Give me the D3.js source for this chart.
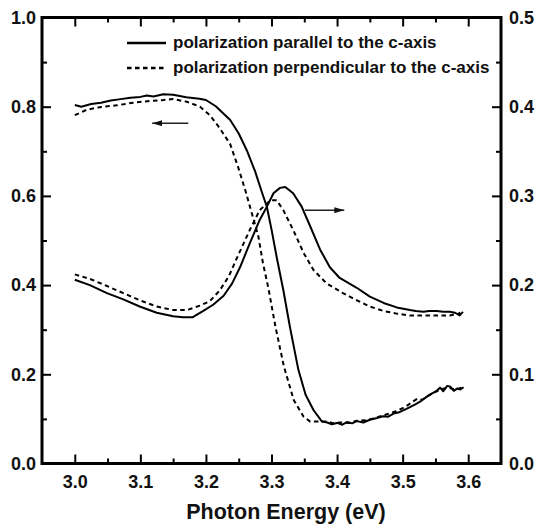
<!DOCTYPE html>
<html>
<head>
<meta charset="utf-8">
<script src="https://cdn.jsdelivr.net/npm/d3@7"></script>
<style>
  body { margin: 0; background: #fff; }
  svg text { font-family: "Liberation Sans", Arial, sans-serif; font-weight: bold; fill: #111; }
</style>
</head>
<body>
<svg id="chart" width="537" height="525"></svg>
<script>
// ---------- data ----------

// reflectivity, left axis
const reflParallel = [
  [3.000,0.804],[3.010,0.800],[3.025,0.806],[3.040,0.809],[3.055,0.814],[3.070,0.817],
  [3.085,0.820],[3.100,0.822],[3.110,0.825],[3.120,0.823],[3.135,0.828],[3.150,0.827],
  [3.170,0.821],[3.190,0.818],[3.200,0.815],[3.215,0.801],[3.225,0.787],[3.237,0.770],
  [3.250,0.740],[3.263,0.700],[3.275,0.655],[3.285,0.610],[3.293,0.575],[3.300,0.525],
  [3.308,0.462],[3.318,0.389],[3.328,0.307],[3.341,0.210],[3.352,0.154],[3.364,0.120],
  [3.377,0.094],[3.385,0.092],[3.392,0.088],[3.400,0.091],[3.408,0.087],[3.415,0.093],
  [3.423,0.090],[3.430,0.095],[3.440,0.092],[3.450,0.098],[3.461,0.102],[3.470,0.106],
  [3.478,0.105],[3.486,0.112],[3.495,0.115],[3.505,0.122],[3.512,0.127],[3.520,0.133],
  [3.528,0.140],[3.537,0.150],[3.545,0.157],[3.552,0.163],[3.557,0.170],[3.562,0.162],
  [3.568,0.174],[3.573,0.172],[3.578,0.163],[3.583,0.168],[3.588,0.166],[3.593,0.171]
];

const reflPerpendicular = [
  [3.000,0.781],[3.018,0.793],[3.038,0.799],[3.064,0.803],[3.089,0.809],[3.115,0.813],
  [3.135,0.815],[3.150,0.817],[3.171,0.811],[3.191,0.800],[3.206,0.781],[3.221,0.752],
  [3.237,0.716],[3.249,0.665],[3.260,0.613],[3.270,0.561],[3.280,0.509],[3.287,0.449],
  [3.295,0.395],[3.306,0.307],[3.319,0.217],[3.334,0.142],[3.349,0.105],[3.359,0.094],
  [3.374,0.094],[3.385,0.094],[3.395,0.090],[3.405,0.092],[3.418,0.091],[3.430,0.096],
  [3.445,0.097],[3.460,0.103],[3.475,0.110],[3.490,0.117],[3.505,0.128],[3.515,0.138],
  [3.522,0.145],[3.530,0.143],[3.540,0.153],[3.552,0.162],[3.562,0.168],[3.572,0.169],
  [3.580,0.166],[3.590,0.170]
];

// peaked curves, right axis
const peakParallel = [
  [3.000,0.206],[3.023,0.200],[3.049,0.191],[3.074,0.184],[3.099,0.176],[3.125,0.169],
  [3.150,0.165],[3.165,0.164],[3.180,0.164],[3.196,0.171],[3.211,0.178],[3.227,0.188],
  [3.240,0.202],[3.252,0.220],[3.267,0.247],[3.282,0.273],[3.293,0.288],[3.303,0.303],
  [3.313,0.309],[3.321,0.310],[3.333,0.303],[3.346,0.288],[3.359,0.266],[3.374,0.240],
  [3.389,0.220],[3.404,0.208],[3.430,0.197],[3.450,0.187],[3.471,0.180],[3.491,0.175],
  [3.511,0.172],[3.520,0.171],[3.532,0.170],[3.540,0.171],[3.552,0.171],[3.562,0.170],
  [3.572,0.170],[3.580,0.169],[3.587,0.166],[3.592,0.170]
];

const peakPerpendicular = [
  [3.000,0.212],[3.023,0.207],[3.049,0.199],[3.074,0.191],[3.099,0.183],[3.125,0.176],
  [3.150,0.172],[3.171,0.172],[3.191,0.177],[3.206,0.182],[3.221,0.194],[3.235,0.210],
  [3.247,0.230],[3.267,0.262],[3.282,0.284],[3.298,0.295],[3.308,0.295],[3.318,0.284],
  [3.333,0.262],[3.349,0.236],[3.364,0.217],[3.384,0.202],[3.409,0.191],[3.430,0.183],
  [3.450,0.176],[3.471,0.171],[3.491,0.168],[3.511,0.166],[3.540,0.166],[3.572,0.166],
  [3.585,0.168],[3.588,0.169]
];

const xTicks = [3.0, 3.1, 3.2, 3.3, 3.4, 3.5, 3.6];
const xMinorTicks = [3.05, 3.15, 3.25, 3.35, 3.45, 3.55];
const leftTicks = [0.0, 0.2, 0.4, 0.6, 0.8, 1.0];
const leftMinorTicks = [0.1, 0.3, 0.5, 0.7, 0.9];
const rightTicks = [0.0, 0.1, 0.2, 0.3, 0.4, 0.5];
const rightMinorTicks = [0.05, 0.15, 0.25, 0.35, 0.45];

const legendLabels = [
  "polarization parallel to the c-axis",
  "polarization perpendicular to the c-axis"
];
const xTitle = "Photon Energy (eV)";

// arrows: [x start, x end, y] in data units
const leftArrow = [3.173, 3.118, 0.763];   // left axis
const rightArrow = [3.351, 3.411, 0.284];  // right axis

// ---------- layout ----------

const plot = { left: 42, right: 501, top: 17.5, bottom: 463.5 };
const DASH = "4.5,3.5";

const svg = d3.select("#chart");

const x = d3.scaleLinear().domain([2.95, 3.65]).range([plot.left, plot.right]);
const yL = d3.scaleLinear().domain([0, 1]).range([plot.bottom, plot.top]);
const yR = d3.scaleLinear().domain([0, 0.5]).range([plot.bottom, plot.top]);

const fmt = d3.format(".1f");
const noLabel = () => "";

// ---------- curves ----------

const lineL = d3.line().x(d => x(d[0])).y(d => yL(d[1]));
const lineR = d3.line().x(d => x(d[0])).y(d => yR(d[1]));

const curves = [
  { data: reflParallel, gen: lineL, dash: null },
  { data: reflPerpendicular, gen: lineL, dash: DASH },
  { data: peakParallel, gen: lineR, dash: null },
  { data: peakPerpendicular, gen: lineR, dash: DASH }
];

svg.append("g")
  .selectAll("path")
  .data(curves)
  .join("path")
  .attr("d", d => d.gen(d.data))
  .attr("fill", "none")
  .attr("stroke", "#000")
  .attr("stroke-width", 2)
  .attr("stroke-linejoin", "round")
  .attr("stroke-dasharray", d => d.dash);

// frame
svg.append("rect")
  .attr("x", plot.left).attr("y", plot.top)
  .attr("width", plot.right - plot.left)
  .attr("height", plot.bottom - plot.top)
  .attr("fill", "none")
  .attr("stroke", "#000")
  .attr("stroke-width", 3);

// ---------- axes (ticks point inward) ----------

function addAxis(axis, tx, ty) {
  const g = svg.append("g")
    .attr("transform", `translate(${tx},${ty})`)
    .call(axis);
  g.select(".domain").remove();
  g.selectAll(".tick line").style("stroke", "#000").style("stroke-width", "2px");
  g.selectAll(".tick text").attr("font-size", 18).style("fill", "#111");
  return g;
}

// bottom / top
addAxis(d3.axisBottom(x).tickValues(xTicks).tickFormat(fmt).tickSize(-9).tickPadding(11.5), 0, plot.bottom);
addAxis(d3.axisBottom(x).tickValues(xMinorTicks).tickFormat(noLabel).tickSize(-5), 0, plot.bottom);
addAxis(d3.axisTop(x).tickValues(xTicks).tickFormat(noLabel).tickSize(-9), 0, plot.top);
addAxis(d3.axisTop(x).tickValues(xMinorTicks).tickFormat(noLabel).tickSize(-5), 0, plot.top);

// left / right
addAxis(d3.axisLeft(yL).tickValues(leftTicks).tickFormat(fmt).tickSize(-9).tickPadding(6), plot.left, 0);
addAxis(d3.axisLeft(yL).tickValues(leftMinorTicks).tickFormat(noLabel).tickSize(-5), plot.left, 0);
addAxis(d3.axisRight(yR).tickValues(rightTicks).tickFormat(fmt).tickSize(-9).tickPadding(8), plot.right, 0);
addAxis(d3.axisRight(yR).tickValues(rightMinorTicks).tickFormat(noLabel).tickSize(-5), plot.right, 0);

// axis title
svg.append("text")
  .attr("x", 286).attr("y", 519)
  .attr("text-anchor", "middle")
  .attr("font-size", 21.5)
  .text(xTitle);

// ---------- arrows ----------

svg.append("defs").append("marker")
  .attr("id", "head")
  .attr("viewBox", "0 0 10 6")
  .attr("refX", 10).attr("refY", 3)
  .attr("markerWidth", 10).attr("markerHeight", 6)
  .attr("markerUnits", "userSpaceOnUse")
  .attr("orient", "auto")
  .append("path")
  .attr("d", "M0,0L10,3L0,6Z")
  .attr("fill", "#111");

[[leftArrow, yL], [rightArrow, yR]].forEach(([a, ys]) => {
  svg.append("line")
    .attr("x1", x(a[0])).attr("x2", x(a[1]))
    .attr("y1", ys(a[2])).attr("y2", ys(a[2]))
    .attr("stroke", "#222")
    .attr("stroke-width", 1.5)
    .attr("marker-end", "url(#head)");
});

// ---------- legend ----------

const legend = svg.append("g");
legendLabels.forEach((label, i) => {
  const yy = 43 + i * 25;
  legend.append("line")
    .attr("x1", 127).attr("x2", 166)
    .attr("y1", yy).attr("y2", yy)
    .attr("stroke", "#000")
    .attr("stroke-width", 2.5)
    .attr("stroke-dasharray", i === 1 ? DASH : null);
  legend.append("text")
    .attr("x", 173).attr("y", yy + 5)
    .attr("font-size", 17)
    .text(label);
});
</script>
</body>
</html>
